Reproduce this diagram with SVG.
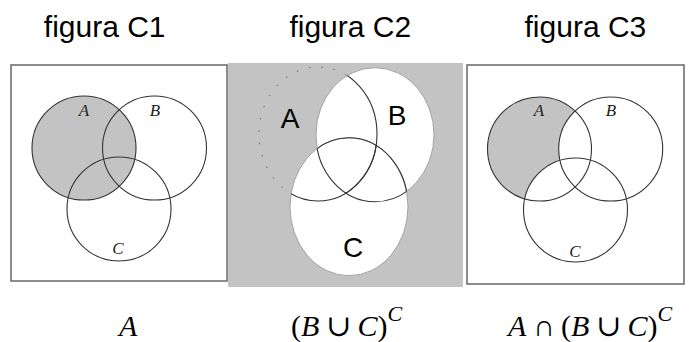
<svg xmlns="http://www.w3.org/2000/svg" width="691" height="342" viewBox="0 0 691 342">
<style>
.title{font-family:"Liberation Sans",Arial,sans-serif;font-size:30px;fill:#000;text-anchor:middle}
.lbl{font-family:"Liberation Serif","DejaVu Serif",serif;font-style:italic;font-size:17px;fill:#222;text-anchor:middle}
.big{font-family:"Liberation Sans",Arial,sans-serif;font-size:28px;fill:#000;text-anchor:middle}
.math{font-family:"Liberation Serif","DejaVu Serif",serif;font-size:30px;fill:#000}
.it{font-style:italic}
.box{fill:#fff;stroke:#666;stroke-width:1.5}
.circ{fill:none;stroke:#333;stroke-width:1.1}
.shade{fill:#c3c3c3}
</style>
<defs>
<clipPath id="clipB"><ellipse cx="375" cy="134.7" rx="59" ry="67"/></clipPath>
<clipPath id="clipC"><ellipse cx="349" cy="206.7" rx="59" ry="69"/></clipPath>
</defs>
<rect width="691" height="342" fill="#fff"/>

<g id="titles">
<text class="title" x="104.7" y="36.5">figura C1</text>
<text class="title" x="350.3" y="36.5">figura C2</text>
<text class="title" x="585.4" y="36.5">figura C3</text>
</g>

<g id="panel-c1">
<rect class="box" x="11" y="65" width="216" height="216"/>
<circle class="shade" cx="84" cy="148" r="52"/>
<circle class="circ" cx="84" cy="148" r="52"/>
<circle class="circ" cx="154.5" cy="148" r="52"/>
<circle class="circ" cx="119" cy="209" r="52"/>
<text class="lbl" x="84" y="116">A</text>
<text class="lbl" x="155" y="116">B</text>
<text class="lbl" x="118" y="254">C</text>
</g>

<g id="panel-c2">
<rect class="shade" x="228" y="63" width="235" height="224"/>
<ellipse cx="318" cy="134" rx="59" ry="67" fill="none" stroke="#555" stroke-width="0.9" stroke-dasharray="1.5 11"/>
<ellipse cx="375" cy="134.7" rx="59" ry="67" fill="#fff" stroke="#9a9a9a" stroke-width="0.9"/>
<ellipse cx="349" cy="206.7" rx="59" ry="69" fill="#fff" stroke="#9a9a9a" stroke-width="0.9"/>
<g clip-path="url(#clipB)">
<ellipse class="circ" cx="318" cy="134" rx="59" ry="67"/>
<ellipse class="circ" cx="349" cy="206.7" rx="59" ry="69"/>
</g>
<g clip-path="url(#clipC)">
<ellipse class="circ" cx="318" cy="134" rx="59" ry="67"/>
<ellipse class="circ" cx="375" cy="134.7" rx="59" ry="67"/>
</g>
<text class="big" x="290" y="128">A</text>
<text class="big" x="397" y="125">B</text>
<text class="big" x="353" y="257">C</text>
</g>

<g id="panel-c3">
<rect class="box" x="467" y="65" width="217" height="219"/>
<circle class="shade" cx="539.5" cy="149" r="52"/>
<circle cx="610.7" cy="149" r="52" fill="#fff"/>
<circle cx="575.5" cy="210" r="52" fill="#fff"/>
<circle class="circ" cx="539.5" cy="149" r="52"/>
<circle class="circ" cx="610.7" cy="149" r="52"/>
<circle class="circ" cx="575.5" cy="210" r="52"/>
<text class="lbl" x="539" y="116">A</text>
<text class="lbl" x="611" y="116">B</text>
<text class="lbl" x="575" y="257">C</text>
</g>

<g id="formulas">
<text class="math" x="119" y="336"><tspan class="it">A</tspan></text>
<text class="math" x="291" y="336">(<tspan class="it">B</tspan><tspan dx="7">∪</tspan><tspan class="it" dx="6">C</tspan>)<tspan class="it" font-size="22" dy="-15">C</tspan></text>
<text class="math" x="508" y="336"><tspan class="it">A</tspan><tspan dx="7">∩</tspan><tspan dx="6">(</tspan><tspan class="it">B</tspan><tspan dx="7">∪</tspan><tspan class="it" dx="6">C</tspan>)<tspan class="it" font-size="22" dy="-15">C</tspan></text>
</g>
</svg>
